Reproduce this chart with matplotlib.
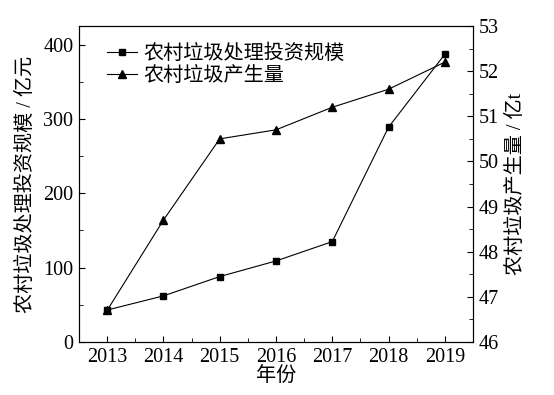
import numpy as np
import matplotlib
matplotlib.use('Agg')
from matplotlib import pyplot as plt
from matplotlib.ticker import MultipleLocator

plt.rcParams['font.family'] = ['Liberation Serif', 'Noto Sans CJK SC']

years = [2013, 2014, 2015, 2016, 2017, 2018, 2019]
investment = [43, 62, 88, 109, 135, 289, 387]
generation = [46.7, 48.7, 50.5, 50.7, 51.2, 51.6, 52.2]

fig = plt.figure(figsize=(5.54, 3.95), dpi=100)
ax = fig.add_axes([79/554, 1-342/395, (473-79)/554, (342-26)/395])
ax2 = ax.twinx()

l1, = ax.plot(years, investment, color='black', lw=0.8, marker='s', ms=5,
              label='农村垃圾处理投资规模')
l2, = ax2.plot(years, generation, color='black', lw=0.8, marker='^', ms=6,
               label='农村垃圾产生量')

ax.set_xlim(2012.5, 2019.5)
ax.set_ylim(0, 425)
ax2.set_ylim(46, 53)
ax.set_xticks(years)
ax.xaxis.set_minor_locator(MultipleLocator(0.5))
ax.yaxis.set_major_locator(MultipleLocator(100))
ax.yaxis.set_minor_locator(MultipleLocator(50))
ax2.yaxis.set_major_locator(MultipleLocator(1))
ax2.yaxis.set_minor_locator(MultipleLocator(0.5))

for a in (ax, ax2):
    a.tick_params(which='both', direction='in', labelsize=14.5, pad=4)
    a.tick_params(which='major', length=4.5)
    a.tick_params(which='minor', length=3)

ax.set_xlabel('年份', fontsize=14.5, labelpad=0)
ax.set_ylabel('农村垃圾处理投资规模 / 亿元', fontsize=14.5, labelpad=5)
ax2.set_ylabel('农村垃圾产生量 / 亿t', fontsize=14.5, labelpad=6)

ax.legend(handles=[l1, l2], loc='upper left', frameon=False, fontsize=14.5,
          handlelength=1.5, handletextpad=0.3, labelspacing=0.15,
          borderaxespad=0.2, bbox_to_anchor=(0.04, 0.98))

fig.savefig('out.png', dpi=100)
